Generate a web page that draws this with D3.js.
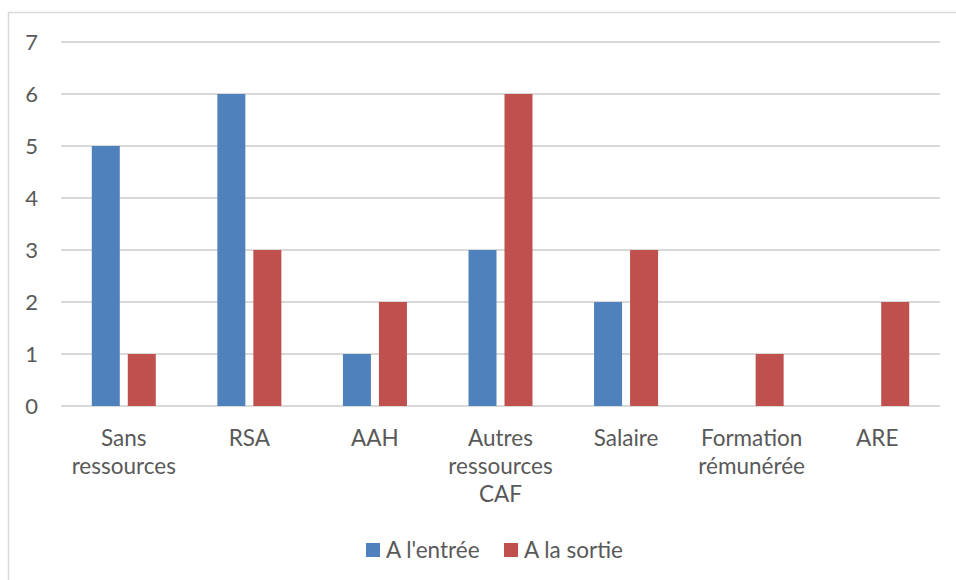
<!DOCTYPE html>
<html>
<head>
<meta charset="utf-8">
<script src="https://cdn.jsdelivr.net/npm/d3@7"></script>
<style>
  html, body { margin: 0; padding: 0; background: #fff; }
  svg { display: block; }
  text { font-family: Lato, "Open Sans", sans-serif; fill: #595959; }
</style>
</head>
<body>
<svg id="chart" width="956" height="580"></svg>
<script>
// Ressources des personnes accompagnées, à l'entrée et à la sortie
const categories = [
  ["Sans", "ressources"],
  ["RSA"],
  ["AAH"],
  ["Autres", "ressources", "CAF"],
  ["Salaire"],
  ["Formation", "rémunérée"],
  ["ARE"]
];
const seriesNames = ["A l'entrée", "A la sortie"];
const entree = [5, 6, 1, 3, 2, 0, 0];
const sortie = [1, 3, 2, 6, 3, 1, 2];
const yTicks = [0, 1, 2, 3, 4, 5, 6, 7];
const colors = ["#4F81BD", "#C0504D"];

const svg = d3.select("#chart");

// outer chart frame
svg.append("rect")
  .attr("x", 8.5).attr("y", 12.5)
  .attr("width", 960).attr("height", 580)
  .attr("fill", "none").attr("stroke", "#D9D9D9").attr("stroke-width", 1.5);

const plot = { left: 61, right: 940, top: 42, bottom: 406 };

const x = d3.scaleBand()
  .domain(d3.range(categories.length))
  .range([plot.left, plot.right])
  .paddingInner(0).paddingOuter(0);

const y = d3.scaleLinear()
  .domain([0, 7])
  .range([plot.bottom, plot.top]);

// horizontal gridlines
svg.append("g")
  .selectAll("line")
  .data(yTicks)
  .join("line")
  .attr("x1", plot.left).attr("x2", plot.right)
  .attr("y1", d => y(d)).attr("y2", d => y(d))
  .attr("stroke", "#D9D9D9").attr("stroke-width", 2);

// y axis labels
const yAxis = d3.axisLeft(y).tickValues(yTicks).tickFormat(d3.format("d")).tickSize(0).tickPadding(0);
const gy = svg.append("g").attr("transform", "translate(38,0)").call(yAxis);
gy.select(".domain").remove();
gy.selectAll("text")
  .attr("font-size", 22).attr("fill", "#595959")
  .style("font-family", "Lato, 'Open Sans', sans-serif");

// bars
const barW = 28, gap = 8;
const series = [entree, sortie];
series.forEach((vals, si) => {
  svg.append("g")
    .selectAll("rect")
    .data(vals)
    .join("rect")
    .attr("x", (d, i) => x(i) + x.bandwidth() / 2 + (si === 0 ? -gap / 2 - barW : gap / 2))
    .attr("y", d => y(d))
    .attr("width", barW)
    .attr("height", d => y(0) - y(d))
    .attr("fill", colors[si]);
});

// category labels
const gx = svg.append("g");
categories.forEach((lines, i) => {
  const t = gx.append("text")
    .attr("text-anchor", "middle")
    .attr("font-size", 22.5);
  lines.forEach((ln, k) => {
    t.append("tspan")
      .attr("x", x(i) + x.bandwidth() / 2)
      .attr("y", 446 + k * 28)
      .text(ln);
  });
});

// legend
const legend = svg.append("g");
const legendItems = [
  { name: seriesNames[0], color: colors[0], x: 366 },
  { name: seriesNames[1], color: colors[1], x: 504 }
];
legendItems.forEach(it => {
  legend.append("rect")
    .attr("x", it.x).attr("y", 543)
    .attr("width", 14).attr("height", 14)
    .attr("fill", it.color);
  legend.append("text")
    .attr("x", it.x + 20).attr("y", 558)
    .attr("font-size", 22.5)
    .text(it.name);
});
</script>
</body>
</html>
